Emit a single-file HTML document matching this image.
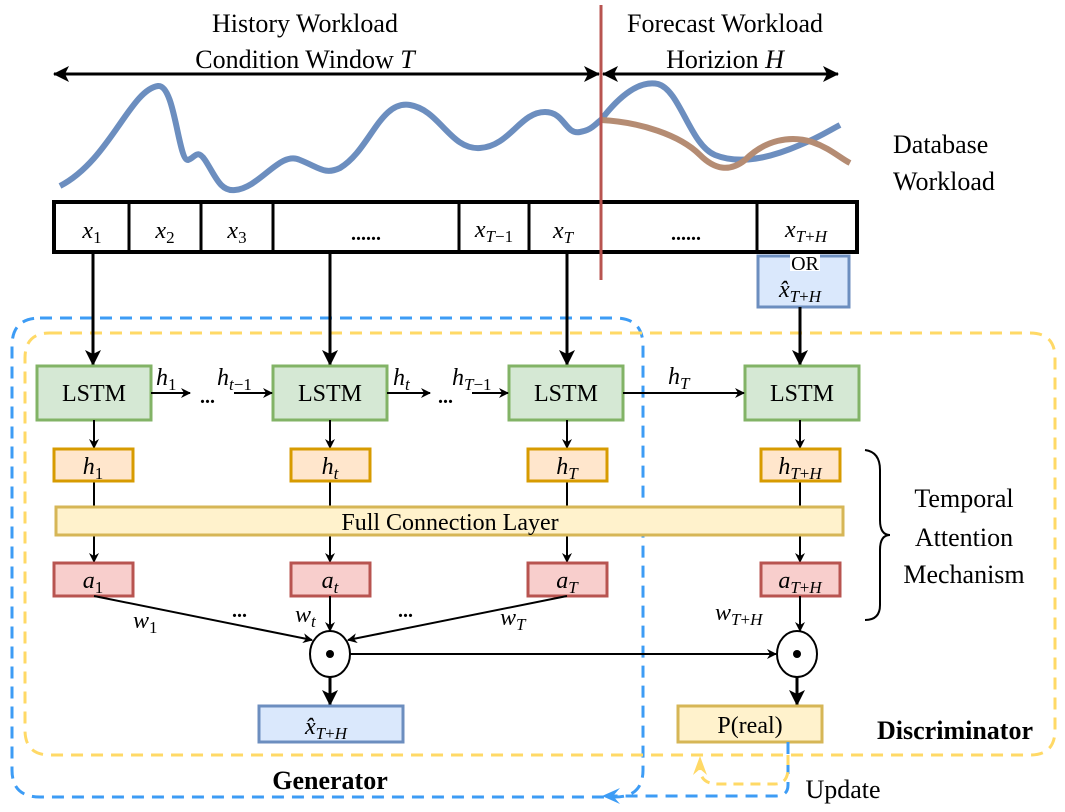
<!DOCTYPE html>
<html><head><meta charset="utf-8"><style>
html,body{margin:0;padding:0;background:#fff}
svg{display:block}
text{font-family:"Liberation Serif",serif;fill:#000}
.m{font-style:italic}
</style></head><body>
<svg width="1065" height="812" viewBox="0 0 1065 812" xmlns="http://www.w3.org/2000/svg">
<defs>
<marker id="a" markerWidth="10" markerHeight="10" refX="9" refY="5" orient="auto" markerUnits="userSpaceOnUse"><path d="M0,0 L10,5 L0,10 L3,5 z" fill="#000"/></marker>
<marker id="ab" markerWidth="16" markerHeight="16" refX="15" refY="8" orient="auto" markerUnits="userSpaceOnUse"><path d="M0,0 L16,8 L0,16 L4,8 z" fill="#000"/></marker>
<marker id="as" markerWidth="16" markerHeight="16" refX="1" refY="8" orient="auto" markerUnits="userSpaceOnUse"><path d="M16,0 L0,8 L16,16 L12,8 z" fill="#000"/></marker>
</defs>
<!-- top labels -->
<text x="305" y="32" font-size="26" text-anchor="middle">History Workload</text>
<text x="305" y="68" font-size="26" text-anchor="middle">Condition Window <tspan class="m">T</tspan></text>
<text x="725" y="32" font-size="26" text-anchor="middle">Forecast Workload</text>
<text x="725" y="68" font-size="26" text-anchor="middle">Horizion <tspan class="m">H</tspan></text>
<line x1="54" y1="74" x2="599" y2="74" stroke="#000" stroke-width="3" marker-start="url(#as)" marker-end="url(#ab)"/>
<line x1="603" y1="74" x2="838" y2="74" stroke="#000" stroke-width="3" marker-start="url(#as)" marker-end="url(#ab)"/>
<!-- curves -->
<path d="M60,186 C110,160 130,90 158,86 C175,84 178,160 188,160 C195,158 197,148 205,160 C215,175 220,192 235,190 C260,188 280,150 300,160 C320,168 325,175 340,168 C370,150 380,100 410,105 C440,110 450,150 480,148 C510,146 520,112 545,112 C565,112 565,135 580,132 C592,130 595,124 601,120" fill="none" stroke="#6c8ebf" stroke-width="6"/>
<path d="M601,120 C620,95 640,80 658,84 C680,90 690,145 715,155 C740,165 770,158 800,145 C820,137 830,130 840,125" fill="none" stroke="#6c8ebf" stroke-width="6"/>
<path d="M601,120 C640,122 680,135 700,155 C715,170 730,172 745,160 C765,140 790,135 812,142 C830,148 840,158 850,163" fill="none" stroke="#b58c73" stroke-width="6"/>
<text x="893" y="153" font-size="26">Database</text>
<text x="893" y="190" font-size="26">Workload</text>
<!-- sequence -->
<rect x="54" y="202" width="803" height="50" fill="#fff" stroke="#000" stroke-width="4"/>
<g stroke="#000" stroke-width="3">
<line x1="129" y1="202" x2="129" y2="252"/><line x1="201" y1="202" x2="201" y2="252"/><line x1="273" y1="202" x2="273" y2="252"/>
<line x1="459" y1="202" x2="459" y2="252"/><line x1="529" y1="202" x2="529" y2="252"/><line x1="757" y1="202" x2="757" y2="252"/>
</g>
<g font-size="24" text-anchor="middle">
<text x="92" y="238" class="m">x<tspan font-size="17" dy="5" font-style="normal">1</tspan></text>
<text x="165" y="238" class="m">x<tspan font-size="17" dy="5" font-style="normal">2</tspan></text>
<text x="237" y="238" class="m">x<tspan font-size="17" dy="5" font-style="normal">3</tspan></text>
<text x="366" y="240" font-weight="bold" font-size="20">......</text>
<text x="494" y="237" class="m">x<tspan font-size="17" dy="5">T</tspan><tspan font-size="17" font-style="normal">−1</tspan></text>
<text x="563" y="238" class="m">x<tspan font-size="17" dy="5">T</tspan></text>
<text x="686" y="240" font-weight="bold" font-size="20">......</text>
<text x="806" y="237" class="m">x<tspan font-size="17" dy="5">T</tspan><tspan font-size="17" font-style="normal">+</tspan><tspan font-size="17">H</tspan></text>
</g>
<line x1="601" y1="5" x2="601" y2="280" stroke="#b85450" stroke-width="3"/>
<rect x="758" y="256" width="91" height="51" fill="#dae8fc" stroke="#6c8ebf" stroke-width="3"/>
<rect x="790" y="254" width="30" height="17" fill="#fff"/>
<text x="805" y="270" font-size="20" text-anchor="middle">OR</text>
<text x="800" y="297" font-size="24" text-anchor="middle" class="m">x̂<tspan font-size="17" dy="5">T</tspan><tspan font-size="17" font-style="normal">+</tspan><tspan font-size="17">H</tspan></text>
<!-- dashed regions -->
<path d="M40,318 L615,318 Q643,318 643,346 L643,770 Q643,797 615,797 L40,797 Q12,797 12,770 L12,346 Q12,318 40,318 Z" fill="none" stroke="#3d9cf5" stroke-width="3" stroke-dasharray="12,8"/>
<path d="M50,333 L1030,333 Q1055,333 1055,358 L1055,730 Q1055,755 1030,755 L50,755 Q25,755 25,730 L25,358 Q25,333 50,333 Z" fill="none" stroke="#ffd966" stroke-width="3" stroke-dasharray="12,8"/>
<!-- input arrows -->
<g stroke="#000" stroke-width="3">
<line x1="93" y1="252" x2="93" y2="365" marker-end="url(#ab)"/>
<line x1="330" y1="252" x2="330" y2="365" marker-end="url(#ab)"/>
<line x1="567" y1="252" x2="567" y2="365" marker-end="url(#ab)"/>
<line x1="800" y1="307" x2="800" y2="365" marker-end="url(#ab)"/>
</g>
<!-- LSTMs -->
<g fill="#d5e8d4" stroke="#82b366" stroke-width="3">
<rect x="37" y="366" width="114" height="54"/><rect x="273" y="366" width="114" height="54"/>
<rect x="509" y="366" width="114" height="54"/><rect x="745" y="366" width="114" height="54"/>
</g>
<g font-size="24" text-anchor="middle">
<text x="94" y="401">LSTM</text><text x="330" y="401">LSTM</text><text x="566" y="401">LSTM</text><text x="802" y="401">LSTM</text>
</g>
<g stroke="#000" stroke-width="2">
<line x1="151" y1="393" x2="190" y2="393" marker-end="url(#a)"/>
<line x1="234" y1="393" x2="272" y2="393" marker-end="url(#a)"/>
<line x1="387" y1="393" x2="430" y2="393" marker-end="url(#a)"/>
<line x1="472" y1="393" x2="508" y2="393" marker-end="url(#a)"/>
<line x1="623" y1="393" x2="744" y2="393" marker-end="url(#a)"/>
</g>
<g font-size="24" class="m">
<text x="156" y="385">h<tspan font-size="17" dy="5" font-style="normal">1</tspan></text>
<text x="217" y="385">h<tspan font-size="17" dy="5">t</tspan><tspan font-size="17" font-style="normal">−1</tspan></text>
<text x="393" y="385">h<tspan font-size="17" dy="5">t</tspan></text>
<text x="452" y="385">h<tspan font-size="17" dy="5">T</tspan><tspan font-size="17" font-style="normal">−1</tspan></text>
<text x="668" y="384">h<tspan font-size="17" dy="5">T</tspan></text>
</g>
<g font-size="20" font-weight="bold"><text x="200" y="403">...</text><text x="438" y="403">...</text></g>
<!-- LSTM to h -->
<g stroke="#000" stroke-width="2">
<line x1="94" y1="420" x2="94" y2="448" marker-end="url(#a)"/><line x1="330" y1="420" x2="330" y2="448" marker-end="url(#a)"/>
<line x1="567" y1="420" x2="567" y2="448" marker-end="url(#a)"/><line x1="800" y1="420" x2="800" y2="448" marker-end="url(#a)"/>
<line x1="94" y1="482" x2="94" y2="507"/><line x1="330" y1="482" x2="330" y2="507"/><line x1="567" y1="482" x2="567" y2="507"/><line x1="800" y1="482" x2="800" y2="507"/>
<line x1="94" y1="536" x2="94" y2="562" marker-end="url(#a)"/><line x1="330" y1="536" x2="330" y2="562" marker-end="url(#a)"/>
<line x1="567" y1="536" x2="567" y2="562" marker-end="url(#a)"/><line x1="800" y1="536" x2="800" y2="562" marker-end="url(#a)"/>
</g>
<g fill="#ffe6cc" stroke="#d79b00" stroke-width="3">
<rect x="54" y="449" width="79" height="32"/><rect x="291" y="449" width="79" height="32"/>
<rect x="528" y="449" width="79" height="32"/><rect x="761" y="449" width="79" height="32"/>
</g>
<g font-size="24" text-anchor="middle" class="m">
<text x="93" y="474">h<tspan font-size="17" dy="5" font-style="normal">1</tspan></text>
<text x="330" y="474">h<tspan font-size="17" dy="5">t</tspan></text>
<text x="567" y="474">h<tspan font-size="17" dy="5">T</tspan></text>
<text x="800" y="474">h<tspan font-size="17" dy="5">T</tspan><tspan font-size="17" font-style="normal">+</tspan><tspan font-size="17">H</tspan></text>
</g>
<rect x="56" y="507" width="787" height="28" fill="#fff2cc" stroke="#d6b656" stroke-width="3"/>
<text x="450" y="530" font-size="24" text-anchor="middle">Full Connection Layer</text>
<g fill="#f8cecc" stroke="#b85450" stroke-width="3">
<rect x="54" y="563" width="79" height="33"/><rect x="291" y="563" width="79" height="33"/>
<rect x="528" y="563" width="79" height="33"/><rect x="761" y="563" width="79" height="33"/>
</g>
<g font-size="24" text-anchor="middle" class="m">
<text x="93" y="588">a<tspan font-size="17" dy="5" font-style="normal">1</tspan></text>
<text x="330" y="588">a<tspan font-size="17" dy="5">t</tspan></text>
<text x="567" y="588">a<tspan font-size="17" dy="5">T</tspan></text>
<text x="800" y="588">a<tspan font-size="17" dy="5">T</tspan><tspan font-size="17" font-style="normal">+</tspan><tspan font-size="17">H</tspan></text>
</g>
<!-- weights -->
<g stroke="#000" stroke-width="2">
<line x1="94" y1="596" x2="312" y2="640" marker-end="url(#a)"/>
<line x1="330" y1="596" x2="330" y2="631" marker-end="url(#a)"/>
<line x1="567" y1="596" x2="348" y2="640" marker-end="url(#a)"/>
<line x1="800" y1="596" x2="800" y2="631" marker-end="url(#a)"/>
<line x1="350" y1="654" x2="776" y2="654" marker-end="url(#a)"/>
</g>
<g font-size="24" class="m">
<text x="133" y="628">w<tspan font-size="17" dy="5" font-style="normal">1</tspan></text>
<text x="295" y="622">w<tspan font-size="17" dy="5">t</tspan></text>
<text x="500" y="625">w<tspan font-size="17" dy="5">T</tspan></text>
<text x="715" y="620">w<tspan font-size="17" dy="5">T</tspan><tspan font-size="17" font-style="normal">+</tspan><tspan font-size="17">H</tspan></text>
</g>
<g font-size="20" font-weight="bold"><text x="232" y="617">...</text><text x="398" y="617">...</text></g>
<ellipse cx="330" cy="654" rx="20" ry="23" fill="#fff" stroke="#000" stroke-width="2"/>
<circle cx="330" cy="654" r="4"/>
<ellipse cx="797" cy="654" rx="20" ry="23" fill="#fff" stroke="#000" stroke-width="2"/>
<circle cx="797" cy="654" r="4"/>
<g stroke="#000" stroke-width="3">
<line x1="330" y1="677" x2="330" y2="705" marker-end="url(#ab)"/>
<line x1="797" y1="677" x2="797" y2="705" marker-end="url(#ab)"/>
</g>
<rect x="259" y="706" width="144" height="36" fill="#dae8fc" stroke="#6c8ebf" stroke-width="3"/>
<text x="326" y="734" font-size="24" text-anchor="middle" class="m">x̂<tspan font-size="17" dy="5">T</tspan><tspan font-size="17" font-style="normal">+</tspan><tspan font-size="17">H</tspan></text>
<rect x="678" y="706" width="144" height="36" fill="#fff2cc" stroke="#d6b656" stroke-width="3"/>
<text x="750" y="733" font-size="24" text-anchor="middle">P(real)</text>
<!-- brace -->
<path d="M865,450 Q880,452 880,470 L880,520 Q880,535 890,535 Q880,535 880,550 L880,605 Q880,620 865,620" fill="none" stroke="#000" stroke-width="2"/>
<g font-size="26" text-anchor="middle">
<text x="964" y="507">Temporal</text><text x="964" y="546">Attention</text><text x="964" y="583">Mechanism</text>
</g>
<!-- update loops -->
<path d="M788,742 L788,785 Q788,796 776,796 L610,796" fill="none" stroke="#3d9cf5" stroke-width="3" stroke-dasharray="12,8"/>
<path d="M620,788 L602,796 L620,804 L613,796 Z" fill="#3d9cf5"/>
<path d="M788,755 L788,768 Q788,784 775,784 L718,784 Q700,784 700,768 L700,760" fill="none" stroke="#ffd966" stroke-width="3" stroke-dasharray="10,7"/>
<path d="M693,775 L700,756 L707,775 L700,769 Z" fill="#ffd966"/>
<text x="330" y="789" font-size="26" font-weight="bold" text-anchor="middle">Generator</text>
<text x="955" y="739" font-size="26" font-weight="bold" text-anchor="middle">Discriminator</text>
<text x="843" y="798" font-size="26" text-anchor="middle">Update</text>
</svg>
</body></html>
